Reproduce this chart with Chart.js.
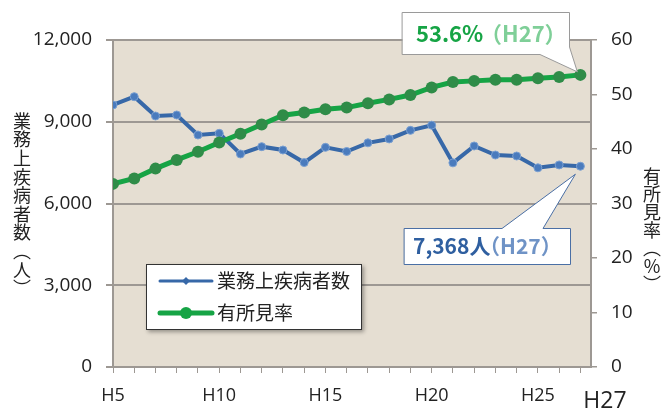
<!DOCTYPE html>
<html>
<head>
<meta charset="utf-8">
<script src="https://cdn.jsdelivr.net/npm/chart.js@4.4.0/dist/chart.umd.min.js"></script>
<style>
  html, body { margin: 0; padding: 0; background: #fff; }
  #wrap { width: 666px; height: 410px; position: relative; }
</style>
</head>
<body>
<div id="wrap"><canvas id="myChart" width="666" height="410"></canvas></div>
<script>
// 平成 year numbers on the x axis
var years = [5,6,7,8,9,10,11,12,13,14,15,16,17,18,19,20,21,22,23,24,25,26,27];
var yearLabels = ['H5','H10','H15','H20','H25'];
var lastLabel = 'H27';

// 業務上疾病者数 (人)
var diseaseCount = [9615,9920,9211,9248,8514,8575,7817,8086,7963,7502,8061,7909,8226,8369,8684,8874,7491,8111,7779,7743,7310,7415,7368];
// 有所見率 (%)
var findingRate = [33.6,34.6,36.4,38.0,39.5,41.2,42.8,44.5,46.2,46.7,47.3,47.6,48.4,49.1,49.9,51.3,52.3,52.5,52.7,52.7,53.0,53.2,53.6];

var leftTitle = ['業','務','上','疾','病','者','数','︵','人','︶'];
var rightTitle = ['有','所','見','率','︵','%','︶'];
var legendLabels = ['業務上疾病者数', '有所見率'];

var BLUE = '#3768a8';
var GREEN = '#16a445';
var GRID = '#9d9893';
var NUM_FONT = '"Open Sans", "Noto Sans CJK JP", sans-serif';
var JP_FONT = '"Noto Sans CJK JP", sans-serif';

function toPoints(vals){
  return years.map(function(y, i){ return {x: y, y: vals[i]}; });
}

// beige plot area
var bgPlugin = {
  id: 'bg',
  beforeDraw: function(chart){
    var a = chart.chartArea, c = chart.ctx;
    c.save();
    c.fillStyle = '#e5ded2';
    c.fillRect(a.left, a.top, a.right - a.left, a.bottom - a.top);
    c.restore();
  }
};

// titles, legend, callouts, H27 label
var extras = {
  id: 'extras',
  afterDatasetsDraw: function(chart){
    var c = chart.ctx;
    c.save();

    // vertical axis titles
    c.fillStyle = '#222';
    c.font = '18px ' + JP_FONT;
    c.textAlign = 'center';
    c.textBaseline = 'middle';
    leftTitle.forEach(function(ch, i){ c.fillText(ch, 22, 121 + i * 18.6); });
    rightTitle.forEach(function(ch, i){ c.fillText(ch, 652, 176 + i * 18); });

    // H27 label
    c.font = '23px ' + NUM_FONT;
    c.fillText(lastLabel, 605, 401);

    // legend
    c.shadowColor = 'rgba(0,0,0,0.35)';
    c.shadowBlur = 4;
    c.shadowOffsetX = 2;
    c.shadowOffsetY = 2;
    c.fillStyle = '#fff';
    c.fillRect(146, 264, 216, 66);
    c.shadowColor = 'transparent';
    c.strokeStyle = '#333';
    c.lineWidth = 1;
    c.strokeRect(146.5, 264.5, 215, 65);
    var rows = [281, 313];
    chart.data.datasets.forEach(function(ds, i){
      var y = rows[i];
      c.strokeStyle = ds.borderColor;
      c.lineWidth = i === 0 ? 3 : 5;
      c.lineCap = 'round';
      c.beginPath(); c.moveTo(160, y); c.lineTo(212, y); c.stroke();
      c.fillStyle = ds.borderColor;
      c.beginPath();
      if (i === 0) {
        c.moveTo(186, y - 4); c.lineTo(190, y); c.lineTo(186, y + 4); c.lineTo(182, y);
      } else {
        c.arc(186, y, 6, 0, Math.PI * 2);
      }
      c.fill();
      c.fillStyle = '#222';
      c.font = '19px ' + JP_FONT;
      c.textAlign = 'left';
      c.fillText(legendLabels[i], 217, y);
    });

    // callouts pointing at the last points
    var xs = chart.scales.x, yl = chart.scales.y, yr = chart.scales.y1;
    var n = years.length - 1;
    var gx = xs.getPixelForValue(years[n]), gy = yr.getPixelForValue(findingRate[n]);
    var bx = xs.getPixelForValue(years[n]), by = yl.getPixelForValue(diseaseCount[n]);

    c.lineWidth = 1;
    c.fillStyle = '#fff';
    c.strokeStyle = '#9a9a9a';
    c.beginPath();
    c.moveTo(402.5, 12.5); c.lineTo(569.5, 12.5); c.lineTo(569.5, 47);
    c.lineTo(gx - 3, gy - 3); c.lineTo(540, 54.5); c.lineTo(402.5, 54.5);
    c.closePath(); c.fill(); c.stroke();

    c.strokeStyle = '#4a6fa5';
    c.beginPath();
    c.moveTo(404.5, 228.5); c.lineTo(502, 228.5); c.lineTo(bx - 5, by + 8);
    c.lineTo(543, 228.5); c.lineTo(570.5, 228.5); c.lineTo(570.5, 264.5);
    c.lineTo(404.5, 264.5); c.closePath(); c.fill(); c.stroke();

    c.textAlign = 'left';
    c.textBaseline = 'alphabetic';
    c.font = 'bold 22px ' + JP_FONT;
    c.fillStyle = GREEN;
    c.fillText('53.6%', 416, 42);
    c.fillStyle = '#7fcf98';
    c.fillText('（H27）', 480, 42);

    c.font = 'bold 21px ' + JP_FONT;
    c.fillStyle = '#2f5fa0';
    c.fillText('7,368人', 413, 254);
    c.fillStyle = '#6f93c6';
    c.fillText('（H27）', 479, 254);

    c.restore();
  }
};

var ctx = document.getElementById('myChart').getContext('2d');
var myChart = new Chart(ctx, {
  type: 'line',
  data: {
    datasets: [
      {
        label: legendLabels[0],
        data: toPoints(diseaseCount),
        yAxisID: 'y',
        borderColor: BLUE,
        backgroundColor: '#4a7bbd',
        borderWidth: 4,
        pointStyle: 'circle',
        pointRadius: 4,
        pointBorderWidth: 1,
        pointBorderColor: '#7aa0d2',
        tension: 0,
        order: 1
      },
      {
        label: legendLabels[1],
        data: toPoints(findingRate),
        yAxisID: 'y1',
        borderColor: GREEN,
        backgroundColor: '#2f8c48',
        borderWidth: 5,
        pointRadius: 6,
        pointBorderWidth: 0,
        tension: 0,
        order: 0
      }
    ]
  },
  options: {
    responsive: false,
    animation: false,
    layout: { padding: { top: 40, left: 0, right: 0, bottom: 0 } },
    plugins: { legend: { display: false }, tooltip: { enabled: false } },
    scales: {
      x: {
        type: 'linear',
        min: 5,
        max: 27.5,
        afterBuildTicks: function(s){ s.ticks = years.map(function(v){ return {value: v}; }); },
        afterFit: function(s){ s.height = 43; },
        grid: { drawOnChartArea: false, tickLength: 6, color: GRID, lineWidth: 1 },
        border: { color: GRID, width: 2 },
        ticks: {
          autoSkip: false, maxRotation: 0, padding: 12,
          color: '#222', font: { size: 18, family: NUM_FONT },
          callback: function(v){ var l = 'H' + v; return yearLabels.indexOf(l) >= 0 ? l : ''; }
        }
      },
      y: {
        position: 'left',
        min: 0,
        max: 12000,
        afterFit: function(s){ s.width = 113; },
        grid: { color: GRID, lineWidth: 2, tickLength: 7 },
        border: { color: GRID, width: 2 },
        ticks: { stepSize: 3000, padding: 14, color: '#222', font: { size: 19, family: NUM_FONT } }
      },
      y1: {
        position: 'right',
        min: 0,
        max: 60,
        afterFit: function(s){ s.width = 75; },
        grid: { drawOnChartArea: false, color: GRID, lineWidth: 1.5, tickLength: 6 },
        border: { color: GRID, width: 2 },
        ticks: { stepSize: 10, padding: 14, color: '#222', font: { size: 19, family: NUM_FONT } }
      }
    }
  },
  plugins: [bgPlugin, extras]
});
</script>
</body>
</html>
